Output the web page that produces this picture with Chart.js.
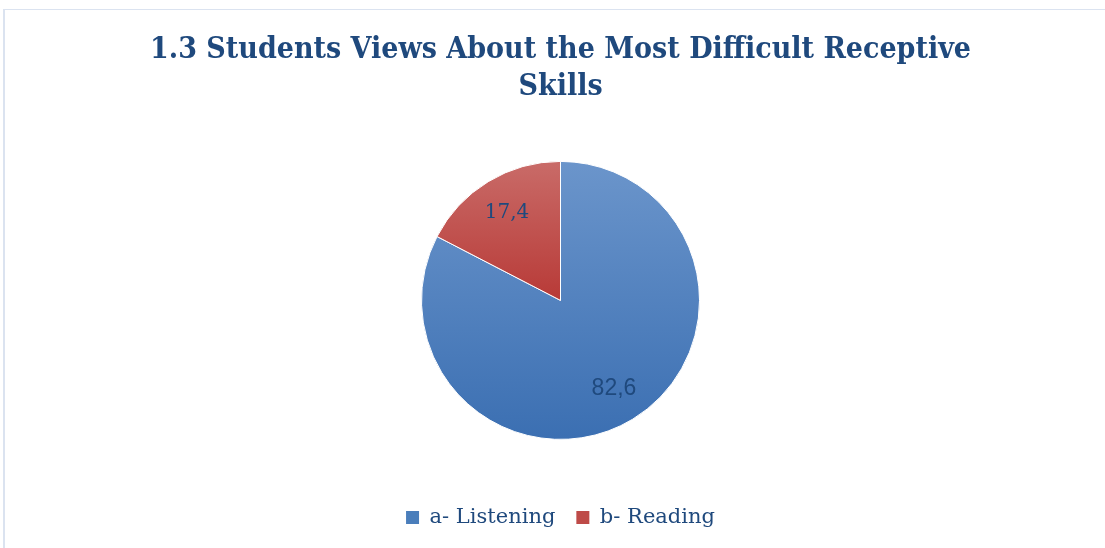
<!DOCTYPE html>
<html>
<head>
<meta charset="utf-8">
<script src="https://cdn.jsdelivr.net/npm/chart.js@4.4.1/dist/chart.umd.min.js"></script>
<style>
    html, body { margin: 0; padding: 0; background: #fff; overflow: hidden; }
    #frame {
        position: absolute; left: 3px; top: 9px; width: 1200px; height: 600px;
        border-left: 2px solid #dbe3f0; border-top: 1px solid #dbe3f0;
    }
    #wrap { position: absolute; left: 4px; top: 0; width: 1113px; height: 548px; }
</style>
</head>
<body>
<div id="frame"></div>
<div id="wrap"><canvas id="pie-chart"></canvas></div>
<script>
    "use strict";

    // Chart data
    var categories = ["a- Listening", "b- Reading"];
    var percentages = [82.6, 17.4];
    var valueLabels = ["82,6", "17,4"];

    // slice colours, top and bottom of the vertical shade
    var shadeTop = ["#6b95cb", "#c96b68"];
    var shadeBottom = ["#3b6fb2", "#b83a37"];
    var flatColors = ["#4a7ebb", "#be4b48"];

    var textBlue = "#1f497d";
    var pieRadius = 139;

    // vertical extent of slice i, as fractions of the radius (-1 top, 1 bottom)
    function sliceExtent(i) {
        var total = percentages.reduce(function (a, b) { return a + b; }, 0);
        var before = 0;
        for (var k = 0; k < i; k++) before += percentages[k];
        var a0 = -Math.PI / 2 + 2 * Math.PI * before / total;
        var a1 = a0 + 2 * Math.PI * percentages[i] / total;
        var ys = [0, Math.sin(a0), Math.sin(a1)];
        [-Math.PI / 2, Math.PI / 2, 3 * Math.PI / 2].forEach(function (a) {
            if (a >= a0 && a <= a1) ys.push(Math.sin(a));
        });
        return [Math.min.apply(null, ys), Math.max.apply(null, ys)];
    }

    // vertical gradient over the height of each slice
    function sliceFill(context) {
        var chart = context.chart;
        var area = chart.chartArea;
        var i = context.dataIndex;
        if (!area) return flatColors[i];
        var cy = (area.top + area.bottom) / 2;
        var ext = sliceExtent(i);
        var g = chart.ctx.createLinearGradient(0, cy + ext[0] * pieRadius, 0, cy + ext[1] * pieRadius);
        g.addColorStop(0, shadeTop[i]);
        g.addColorStop(1, shadeBottom[i]);
        return g;
    }

    // Value labels placed inside each slice
    var sliceLabels = {
        id: "sliceLabels",
        afterDatasetsDraw: function (chart) {
            var ctx = chart.ctx;
            var meta = chart.getDatasetMeta(0);
            var fonts = [
                "23px 'Liberation Sans', Arial, sans-serif",
                "20px 'DejaVu Serif', serif"
            ];
            meta.data.forEach(function (arc, i) {
                var mid = (arc.startAngle + arc.endAngle) / 2;
                var r = arc.outerRadius * 0.74;
                ctx.save();
                ctx.font = fonts[i];
                ctx.fillStyle = textBlue;
                ctx.textAlign = "center";
                ctx.textBaseline = "middle";
                ctx.fillText(valueLabels[i], arc.x + Math.cos(mid) * r, arc.y + Math.sin(mid) * r);
                ctx.restore();
            });
        }
    };

    var ctx = document.getElementById("pie-chart").getContext("2d");
    var myChart = new Chart(ctx, {
        type: "pie",
        data: {
            labels: categories,
            datasets: [{
                data: percentages,
                backgroundColor: sliceFill,
                borderColor: "#ffffff",
                borderWidth: 1,
                radius: pieRadius
            }]
        },
        options: {
            responsive: true,
            maintainAspectRatio: false,
            animation: false,
            layout: { padding: { top: 32, bottom: 10 } },
            plugins: {
                title: {
                    display: true,
                    text: ["1.3 Students Views About the Most Difficult Receptive", "Skills"],
                    color: textBlue,
                    font: { family: "'DejaVu Serif Condensed', 'DejaVu Serif', serif", size: 30, weight: "bold", lineHeight: 1.23 },
                    padding: { top: 0, bottom: 9 }
                },
                legend: {
                    position: "bottom",
                    labels: {
                        color: textBlue,
                        font: { family: "'DejaVu Serif', serif", size: 21 },
                        boxWidth: 13,
                        boxHeight: 13,
                        padding: 21,
                        generateLabels: function (chart) {
                            return categories.map(function (c, i) {
                                return {
                                    text: c,
                                    fillStyle: flatColors[i],
                                    strokeStyle: flatColors[i],
                                    lineWidth: 0,
                                    fontColor: textBlue,
                                    index: i
                                };
                            });
                        }
                    }
                },
                tooltip: { enabled: false }
            }
        },
        plugins: [sliceLabels]
    });
</script>
</body>
</html>
